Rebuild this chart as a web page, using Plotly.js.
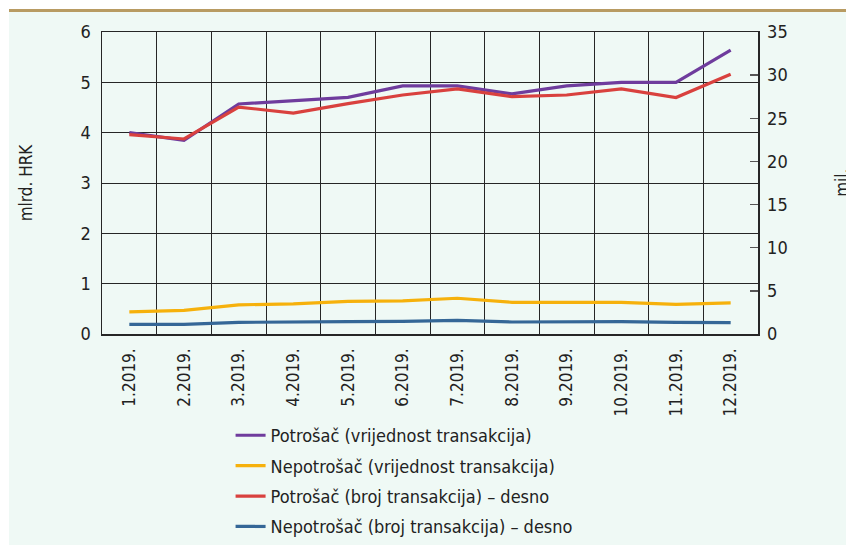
<!DOCTYPE html>
<html>
<head>
<meta charset="utf-8">
<script src="https://cdn.plot.ly/plotly-3.0.1.min.js"></script>
<style>
  html, body { margin: 0; padding: 0; background: #ffffff; }
  #frame { position: absolute; left: 9px; top: 9px; width: 837px; height: 533px; border-top: 3px solid #b89b62; background: #eff9f5; overflow: hidden; }
  #chart { width: 837px; height: 533px; }
</style>
</head>
<body>
<div id="frame"><div id="chart"></div></div>
<script>
const months = ['1.2019.', '2.2019.', '3.2019.', '4.2019.', '5.2019.', '6.2019.', '7.2019.', '8.2019.', '9.2019.', '10.2019.', '11.2019.', '12.2019.'];
// left axis: mlrd. HRK
const potrosacVrijednost = [4.00, 3.85, 4.57, 4.63, 4.70, 4.93, 4.93, 4.77, 4.93, 5.00, 5.00, 5.64];
const nepotrosacVrijednost = [0.44, 0.47, 0.58, 0.60, 0.65, 0.66, 0.71, 0.63, 0.63, 0.63, 0.59, 0.62];
// right axis: mil.
const potrosacBroj = [23.1, 22.6, 26.3, 25.6, 26.7, 27.7, 28.4, 27.5, 27.7, 28.4, 27.4, 30.1];
const nepotrosacBroj = [1.12, 1.12, 1.35, 1.35, 1.43, 1.47, 1.58, 1.39, 1.43, 1.43, 1.35, 1.31];
const names = ['Potrošač (vrijednost transakcija)', 'Nepotrošač (vrijednost transakcija)', 'Potrošač (broj transakcija) – desno', 'Nepotrošač (broj transakcija) – desno'];
const colors = ['#6f3c9d', '#f6b10c', '#d9413e', '#356797'];
const rightTitle = 'mil.';

const FONT = '"Liberation Sans Narrow", "DejaVu Sans Condensed", "Arial Narrow", sans-serif';

function tr(y, i, axis) {
  return { x: months, y: y, name: names[i], type: 'scatter', mode: 'lines', yaxis: axis,
           legendgroup: 'g' + i,
           line: { color: colors[i], width: 3.2 } };
}
const data = [
  tr(potrosacVrijednost, 0, 'y'),
  tr(nepotrosacVrijednost, 1, 'y'),
  tr(potrosacBroj, 2, 'y2'),
  tr(nepotrosacBroj, 3, 'y2')
];

const layout = {
  width: 837, height: 533,
  margin: { l: 93, r: 88, t: 20, b: 211, autoexpand: false },
  paper_bgcolor: '#eff9f5', plot_bgcolor: '#eff9f5',
  font: { family: FONT, size: 18, color: '#222222' },
  showlegend: true,
  legend: { x: 0.196, y: -0.275, xanchor: 'left', yanchor: 'top', bgcolor: 'rgba(0,0,0,0)',
            traceorder: 'grouped', tracegroupgap: 4,
            font: { family: FONT, size: 18, color: '#222222' } },
  xaxis: { type: 'category', range: [-0.5, 11.5], tickmode: 'linear', dtick: 1, tickson: 'boundaries',
           showgrid: true, gridcolor: '#262626', gridwidth: 1,
           ticks: '', tickangle: -90, showline: true, linecolor: '#262626', linewidth: 1.5, mirror: true,
           automargin: false,
           ticklabelstandoff: 6, tickfont: { family: FONT, size: 17, color: '#222222' } },
  yaxis: { range: [0, 6], dtick: 1, showgrid: true, gridcolor: '#262626', gridwidth: 1, zeroline: false,
           ticks: '', showline: true, linecolor: '#262626', linewidth: 1.5, mirror: true,
           ticklabelstandoff: 6, automargin: false,
           title: { text: 'mlrd. HRK', standoff: 43, font: { family: FONT, size: 17, color: '#222222' } },
           tickfont: { family: FONT, size: 18, color: '#222222' } },
  yaxis2: { range: [0, 35], dtick: 5, overlaying: 'y', side: 'right', showgrid: false, zeroline: false,
            ticks: 'inside', ticklen: 8, tickcolor: '#555555', tickwidth: 1.3, automargin: false,
            showline: true, linecolor: '#262626', linewidth: 1.5, ticklabelstandoff: 4,
            tickfont: { family: FONT, size: 18, color: '#222222' } },
  annotations: [{
    text: rightTitle, xref: 'paper', yref: 'paper', x: 1.1095, y: 0.5,
    xanchor: 'left', yanchor: 'middle', textangle: -90, showarrow: false,
    font: { family: FONT, size: 17, color: '#222222' }
  }]
};

Plotly.newPlot('chart', data, layout, { displayModeBar: false, staticPlot: true });
</script>
</body>
</html>
